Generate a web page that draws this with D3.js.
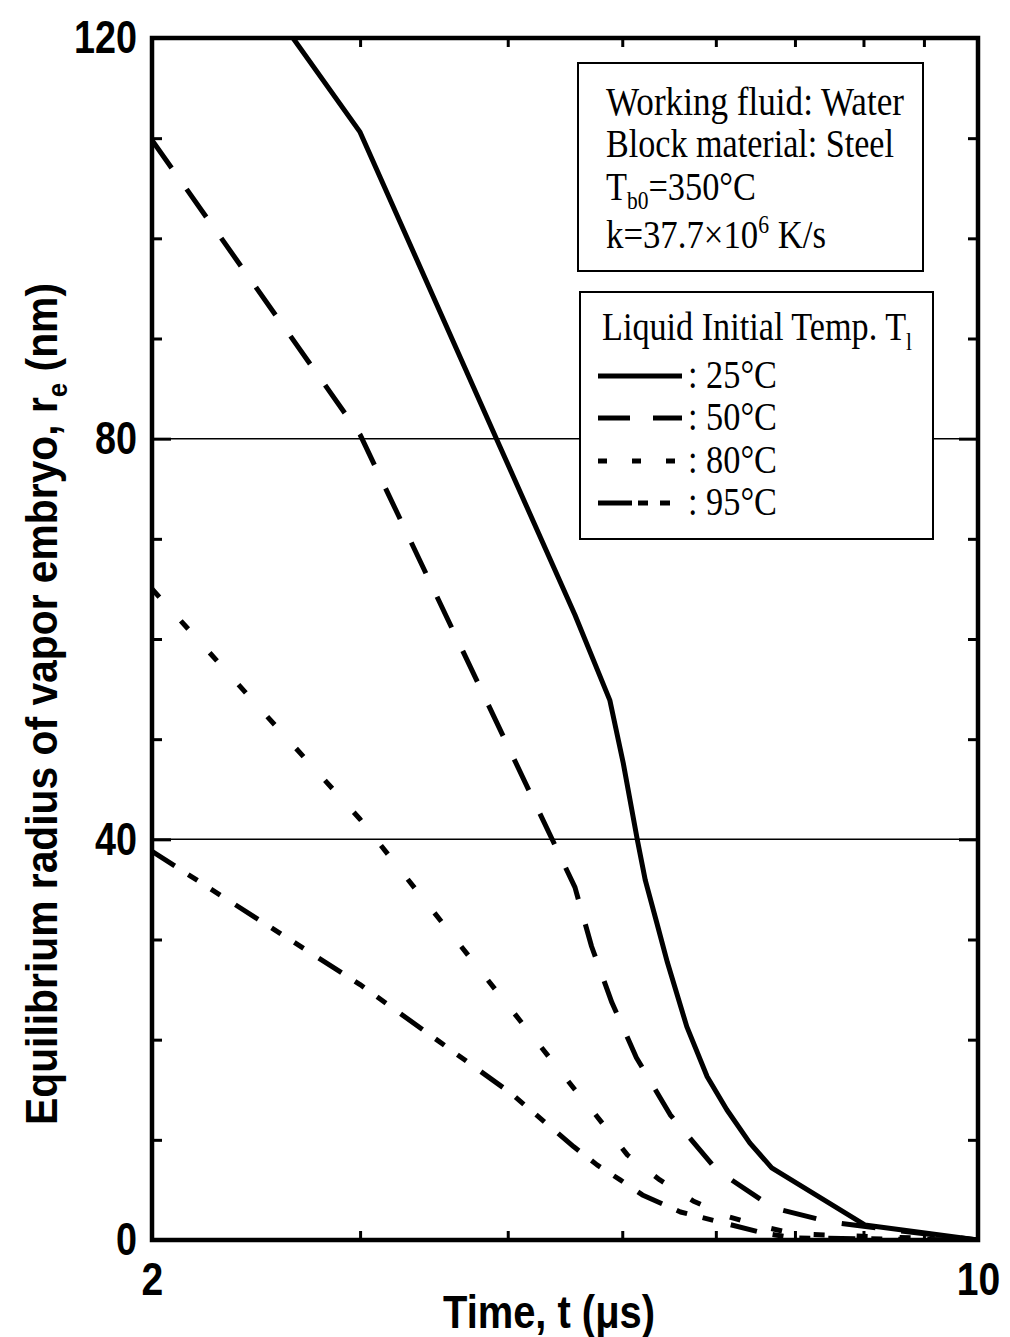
<!DOCTYPE html>
<html>
<head>
<meta charset="utf-8">
<script src="https://cdn.jsdelivr.net/npm/d3@7"></script>
<style>
  html, body { margin: 0; padding: 0; background: #fff; }
  svg { display: block; }
</style>
</head>
<body>
<svg id="chart" width="1010" height="1337"></svg>
<script>
// ---------------- data ----------------
const seriesNames = ["25°C", "50°C", "80°C", "95°C"];

const t25 = [2.5, 3.0, 3.94, 4.56, 4.88, 5.01, 5.15, 5.23, 5.35, 5.46, 5.67, 5.90, 6.13, 6.41, 6.69, 8.02, 10];
const r25 = [123.7, 110.6, 79.2, 62.4, 53.9, 47.6, 39.9, 35.9, 31.6, 27.7, 21.3, 16.3, 13.0, 9.7, 7.2, 1.5, 0];

const t50 = [2, 3.0, 4.56, 4.71, 4.90, 5.14, 5.49, 6.01, 6.71, 7.49, 8.47, 10];
const r50 = [109.8, 80.4, 35.2, 29.3, 23.7, 18.2, 12.5, 7.0, 3.2, 1.8, 1.0, 0];

const t80 = [2, 3.0, 4.56, 4.74, 5.05, 5.38, 5.74, 6.12, 6.54, 7.0, 10];
const r80 = [65.0, 42.0, 15.0, 12.6, 8.5, 6.0, 3.9, 2.4, 1.4, 0.6, 0];

const t95 = [2, 3.0, 4.02, 4.55, 4.76, 4.98, 5.20, 5.60, 6.58, 7.0, 10];
const r95 = [38.8, 25.5, 14.7, 9.3, 7.5, 6.0, 4.5, 2.8, 0.7, 0.2, 0];

const xTickValues = [2, 3, 4, 5, 6, 7, 8, 9, 10];
const xTickLabels = {2: "2", 10: "10"};
const yMajorTicks = [0, 40, 80, 120];
const yMinorTicks = [10, 20, 30, 50, 60, 70, 90, 100, 110];
const gridValues = [40, 80];

const infoLines = ["Working fluid: Water", "Block material: Steel", "Tb0=350°C", "k=37.7×10^6 K/s"];

// ---------------- chart ----------------
const svg = d3.select("#chart");
const L = 152, R = 978, T = 38, B = 1240;
const x = d3.scaleLog().domain([2, 10]).range([L, R]);
const y = d3.scaleLinear().domain([0, 120]).range([B, T]);

svg.append("rect").attr("width", 1010).attr("height", 1337).attr("fill", "#fff");

svg.append("defs").append("clipPath").attr("id", "clip")
  .append("rect").attr("x", L).attr("y", T).attr("width", R - L).attr("height", B - T);

// grid lines
svg.append("g").selectAll("line").data(gridValues).join("line")
  .attr("x1", L).attr("x2", R)
  .attr("y1", d => y(d)).attr("y2", d => y(d))
  .attr("stroke", "#000").attr("stroke-width", 1.5);

// curves
const series = [
  {t: t25, r: r25, dash: null},
  {t: t50, r: r50, dash: "34,26"},
  {t: t80, r: r80, dash: "11,32"},
  {t: t95, r: r95, dash: "27,16,11,16,11,18"}
];
const line = d3.line().x(d => x(d[0])).y(d => y(d[1]));
const gCurves = svg.append("g").attr("clip-path", "url(#clip)");
series.forEach(s => {
  const pts = s.t.map((t, i) => [t, s.r[i]]);
  gCurves.append("path")
    .attr("d", line(pts))
    .attr("fill", "none")
    .attr("stroke", "#000")
    .attr("stroke-width", 5)
    .attr("stroke-linejoin", "round")
    .attr("stroke-dasharray", s.dash);
});

// axes
function styleAxis(g) {
  g.select(".domain").remove();
  g.selectAll(".tick line").attr("stroke", "#000").attr("stroke-width", 3);
  g.selectAll("text")
    .attr("font-family", "'Liberation Sans', Arial, sans-serif")
    .attr("font-weight", "bold")
    .attr("font-size", 46)
    .attr("fill", "#000");
}
function squeeze(g, f) {
  g.selectAll("text").each(function () {
    const len = this.getComputedTextLength();
    if (len > 0) {
      d3.select(this).attr("textLength", len * f).attr("lengthAdjust", "spacingAndGlyphs");
    }
  });
}

const gxb = svg.append("g").attr("transform", `translate(0,${B})`)
  .call(d3.axisBottom(x).tickValues(xTickValues).tickSizeInner(-9).tickSizeOuter(0)
    .tickPadding(22).tickFormat(d => xTickLabels[d] || ""));
styleAxis(gxb); squeeze(gxb, 0.85);

const gxt = svg.append("g").attr("transform", `translate(0,${T})`)
  .call(d3.axisTop(x).tickValues(xTickValues).tickSizeInner(-9).tickSizeOuter(0).tickFormat(() => ""));
styleAxis(gxt);

const gyl = svg.append("g").attr("transform", `translate(${L},0)`)
  .call(d3.axisLeft(y).tickValues(yMajorTicks).tickSizeInner(-19).tickSizeOuter(0)
    .tickPadding(15).tickFormat(d3.format("d")));
styleAxis(gyl); squeeze(gyl, 0.82);

const gylm = svg.append("g").attr("transform", `translate(${L},0)`)
  .call(d3.axisLeft(y).tickValues(yMinorTicks).tickSizeInner(-10).tickSizeOuter(0).tickFormat(() => ""));
styleAxis(gylm);

const gyr = svg.append("g").attr("transform", `translate(${R},0)`)
  .call(d3.axisRight(y).tickValues(yMajorTicks).tickSizeInner(-19).tickSizeOuter(0).tickFormat(() => ""));
styleAxis(gyr);

const gyrm = svg.append("g").attr("transform", `translate(${R},0)`)
  .call(d3.axisRight(y).tickValues(yMinorTicks).tickSizeInner(-10).tickSizeOuter(0).tickFormat(() => ""));
styleAxis(gyrm);

// frame
svg.append("rect").attr("x", L).attr("y", T).attr("width", R - L).attr("height", B - T)
  .attr("fill", "none").attr("stroke", "#000").attr("stroke-width", 4.5);

// axis titles
svg.append("text")
  .attr("x", 549).attr("y", 1328)
  .attr("text-anchor", "middle")
  .attr("font-family", "'Liberation Sans', Arial, sans-serif")
  .attr("font-weight", "bold").attr("font-size", 46)
  .attr("textLength", 212).attr("lengthAdjust", "spacingAndGlyphs")
  .text("Time, t (μs)");

const yt = svg.append("text")
  .attr("transform", "translate(57,704) rotate(-90)")
  .attr("text-anchor", "middle")
  .attr("font-family", "'Liberation Sans', Arial, sans-serif")
  .attr("font-weight", "bold").attr("font-size", 44)
  .attr("textLength", 842).attr("lengthAdjust", "spacingAndGlyphs");
yt.append("tspan").text("Equilibrium radius of vapor embryo, r");
yt.append("tspan").attr("font-size", 28).attr("dy", 10).text("e");
yt.append("tspan").attr("dy", -10).text(" (nm)");

// info box
const serif = "'Liberation Serif', 'Times New Roman', serif";
svg.append("rect").attr("x", 578).attr("y", 63).attr("width", 345).attr("height", 208)
  .attr("fill", "#fff").attr("stroke", "#000").attr("stroke-width", 2);
const info = svg.append("g").attr("font-family", serif).attr("font-size", 40).attr("fill", "#000");
info.append("text").attr("x", 606).attr("y", 115)
  .attr("textLength", 298).attr("lengthAdjust", "spacingAndGlyphs").text(infoLines[0]);
info.append("text").attr("x", 606).attr("y", 157)
  .attr("textLength", 288).attr("lengthAdjust", "spacingAndGlyphs").text(infoLines[1]);
const r3 = info.append("text").attr("x", 606).attr("y", 200)
  .attr("textLength", 150).attr("lengthAdjust", "spacingAndGlyphs");
r3.append("tspan").text("T");
r3.append("tspan").attr("font-size", 25).attr("dy", 9).text("b0");
r3.append("tspan").attr("dy", -9).text("=350°C");
const r4 = info.append("text").attr("x", 606).attr("y", 248)
  .attr("textLength", 220).attr("lengthAdjust", "spacingAndGlyphs");
r4.append("tspan").text("k=37.7×10");
r4.append("tspan").attr("font-size", 25).attr("dy", -15).text("6");
r4.append("tspan").attr("dy", 15).text(" K/s");

// legend
svg.append("rect").attr("x", 580).attr("y", 292).attr("width", 353).attr("height", 247)
  .attr("fill", "#fff").attr("stroke", "#000").attr("stroke-width", 2);
const leg = svg.append("g").attr("font-family", serif).attr("font-size", 40).attr("fill", "#000");
const lt = leg.append("text").attr("x", 602).attr("y", 340)
  .attr("textLength", 310).attr("lengthAdjust", "spacingAndGlyphs");
lt.append("tspan").text("Liquid Initial Temp. T");
lt.append("tspan").attr("font-size", 25).attr("dy", 10).text("l");

const legDash = [null, "32,23", "9,25", "34,6,10,12,10,100"];
const legEnd = [682, 682, 676, 670];
const legY = [376, 418, 461, 503];
seriesNames.forEach((name, i) => {
  leg.append("line")
    .attr("x1", 598).attr("x2", legEnd[i])
    .attr("y1", legY[i]).attr("y2", legY[i])
    .attr("stroke", "#000").attr("stroke-width", 5)
    .attr("stroke-dasharray", legDash[i]);
  leg.append("text").attr("x", 688).attr("y", legY[i] + 12)
    .attr("textLength", 89).attr("lengthAdjust", "spacingAndGlyphs")
    .text(": " + name);
});
</script>
</body>
</html>
